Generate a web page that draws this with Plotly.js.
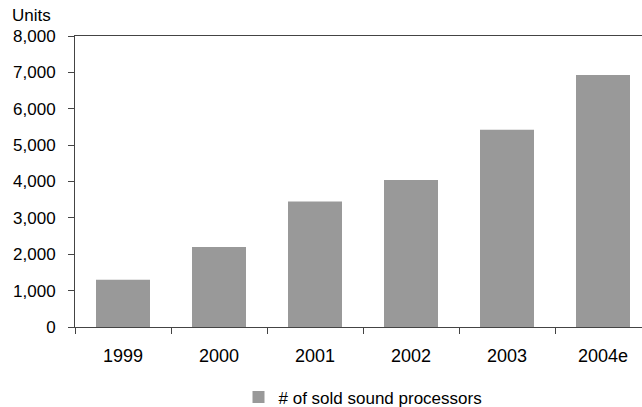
<!DOCTYPE html>
<html>
<head>
<meta charset="utf-8">
<script src="https://cdn.plot.ly/plotly-3.0.1.min.js"></script>
<style>
html,body{margin:0;padding:0;overflow:hidden;background:#fff;}
#chart{width:660px;height:407px;}
</style>
</head>
<body>
<div id="chart"></div>
<script>
const years = ["1999", "2000", "2001", "2002", "2003", "2004e"];
const soldProcessors = [1300, 2200, 3450, 4040, 5420, 6930];
const seriesName = "# of sold sound processors";
const yTicks = [0, 1000, 2000, 3000, 4000, 5000, 6000, 7000, 8000];

const font = {family: "Liberation Sans, Arial, sans-serif", size: 17, color: "#000"};

Plotly.newPlot("chart", [{
  type: "bar",
  x: years,
  y: soldProcessors,
  name: seriesName,
  marker: {color: "#999999"},
  width: 0.5625,
  showlegend: true,
  hoverinfo: "x+y"
}], {
  width: 660,
  height: 407,
  margin: {l: 75, r: 9, t: 36, b: 80, autoexpand: false},
  paper_bgcolor: "#fff",
  plot_bgcolor: "#fff",
  font: font,
  showlegend: true,
  bargap: 0.4375,
  xaxis: {
    type: "category",
    showline: true,
    linecolor: "#444",
    linewidth: 1,
    mirror: true,
    ticks: "outside",
    tickson: "boundaries",
    ticklen: 6,
    tickcolor: "#444",
    showgrid: false,
    zeroline: false,
    tickfont: {family: font.family, size: 18, color: "#000"},
    ticklabelstandoff: 12
  },
  yaxis: {
    range: [0, 8000],
    tickvals: yTicks,
    tickformat: ",",
    showline: true,
    linecolor: "#444",
    linewidth: 1,
    ticks: "outside",
    ticklen: 6,
    tickcolor: "#444",
    showgrid: false,
    zeroline: false,
    tickfont: font,
    ticklabelstandoff: 9
  },
  legend: {
    orientation: "h",
    x: 0.5,
    xanchor: "center",
    y: -0.18,
    yanchor: "top",
    itemwidth: 30,
    font: {family: font.family, size: 17, color: "#000"}
  },
  annotations: [{
    text: "Units",
    xref: "paper",
    yref: "paper",
    x: -0.112,
    y: 1.0,
    xanchor: "left",
    yanchor: "bottom",
    yshift: 9,
    showarrow: false,
    font: font
  }]
}, {displayModeBar: false, staticPlot: true});
</script>
</body>
</html>
